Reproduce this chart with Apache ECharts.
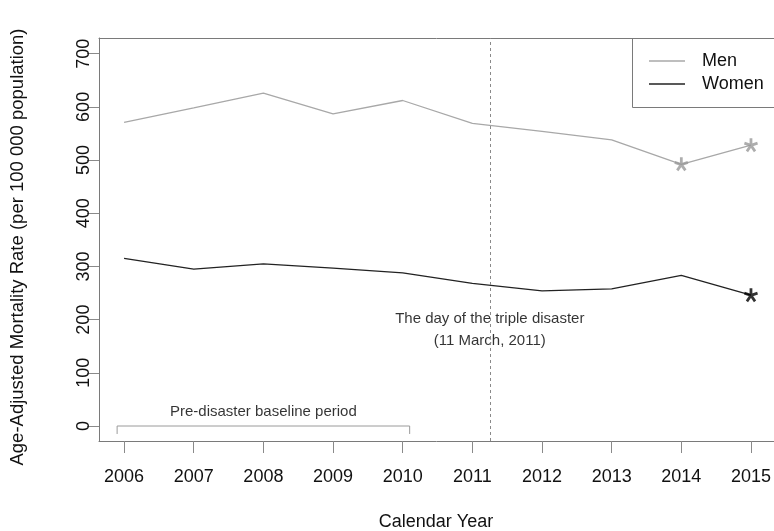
<!DOCTYPE html>
<html>
<head>
<meta charset="utf-8">
<script src="https://cdn.jsdelivr.net/npm/echarts@6/dist/echarts.min.js"></script>
<style>
  html, body { margin: 0; padding: 0; background: #fff; }
  #chart { width: 774px; height: 531px; }
</style>
</head>
<body>
<div id="chart"></div>
<script>
// Age-adjusted mortality rates, 2006-2015
const years = [2006, 2007, 2008, 2009, 2010, 2011, 2012, 2013, 2014, 2015];
const menRates = [571, 598, 626, 587, 612, 569, 554, 538, 492, 528];
const womenRates = [315, 295, 305, 297, 288, 268, 254, 258, 283, 246];

// years flagged with an asterisk (significant difference from baseline)
const menFlagged = [2014, 2015];
const womenFlagged = [2015];

const yTicks = [0, 100, 200, 300, 400, 500, 600, 700];

// marker for the disaster of 11 March 2011 (placed a quarter into 2011)
const disasterDate = 2011.25;
// pre-disaster baseline bracket
const baselineStart = 2005.9;
const baselineEnd = 2010.1;

const FONT = '"Liberation Sans", Arial, Helvetica, sans-serif';
const MEN_COLOR = '#a8a8a8';
const WOMEN_COLOR = '#222222';
const FRAME = '#7a7a7a';

// five-armed asterisk outline, used as a marker symbol
function asteriskPath() {
  const t = 0.2;
  let d = '';
  for (let k = 0; k < 5; k++) {
    const a = -Math.PI / 2 + k * 2 * Math.PI / 5;
    const dx = Math.cos(a), dy = Math.sin(a);
    const nx = -dy * t, ny = dx * t;
    const pts = [
      [nx, ny], [nx + dx, ny + dy], [-nx + dx, -ny + dy], [-nx, -ny]
    ];
    d += 'M' + pts.map(p => p[0].toFixed(3) + ',' + p[1].toFixed(3)).join('L') + 'Z';
  }
  return 'path://' + d;
}
const STAR = asteriskPath();

function flaggedPoints(rates, flagged) {
  return flagged.map(y => [y, rates[years.indexOf(y)]]);
}

const chart = echarts.init(document.getElementById('chart'), null, { renderer: 'canvas' });

const X_MIN = 2005.64, X_MAX = 2015.33;

const option = {
  animation: false,
  backgroundColor: '#ffffff',
  textStyle: { fontFamily: FONT },
  grid: { left: 99, top: 38, right: 0, bottom: 90, show: false },
  xAxis: [
    {
      type: 'value', position: 'bottom',
      min: X_MIN, max: X_MAX,
      axisLine: { show: true, onZero: false, lineStyle: { color: FRAME, width: 1 } },
      splitLine: { show: false },
      axisTick: { show: true, customValues: years, length: 12, lineStyle: { color: '#8a8a8a', width: 1 } },
      axisLabel: { customValues: years, margin: 27, fontSize: 18, color: '#111', fontFamily: FONT,
        formatter: v => String(Math.round(v)) }
    },
    {
      // top edge of the plot frame
      type: 'value', position: 'top',
      min: X_MIN, max: X_MAX,
      axisLine: { show: true, onZero: false, lineStyle: { color: FRAME, width: 1 } },
      axisTick: { show: false }, axisLabel: { show: false }, splitLine: { show: false }
    }
  ],
  yAxis: {
    type: 'value',
    min: -28.2,
    max: 729.5,
    axisLine: { show: true, onZero: false, lineStyle: { color: FRAME, width: 1 } },
    splitLine: { show: false },
    axisTick: { show: true, customValues: yTicks, length: 12, lineStyle: { color: '#8a8a8a', width: 1 } },
    axisLabel: { customValues: yTicks, rotate: 90, margin: 6, fontSize: 18, color: '#111', fontFamily: FONT }
  },
  legend: {
    orient: 'vertical',
    left: 632, top: 38,
    data: [
      { name: 'Men', icon: 'rect', itemStyle: { color: MEN_COLOR } },
      { name: 'Women', icon: 'rect', itemStyle: { color: WOMEN_COLOR } }
    ],
    itemWidth: 36, itemHeight: 1.3, itemGap: 5,
    padding: [14, 10, 14, 17],
    borderWidth: 0,
    textStyle: { fontSize: 18, color: '#111', fontFamily: FONT, padding: [0, 0, 0, 12] }
  },
  graphic: [
    // legend frame, running past the right edge like the plot frame
    { type: 'rect', shape: { x: 632.5, y: 38.5, width: 200, height: 69 },
      style: { fill: 'none', stroke: FRAME, lineWidth: 1 }, z: 10 },
    { type: 'text', style: { text: 'Calendar Year', x: 436, y: 522, textAlign: 'center', textVerticalAlign: 'middle', font: '18px ' + FONT, fill: '#111' } },
    { type: 'text', x: 18, y: 247, rotation: Math.PI / 2,
      style: { text: 'Age-Adjusted Mortality Rate (per 100 000 population)', x: 0, y: 0, textAlign: 'center', textVerticalAlign: 'middle', font: '18.5px ' + FONT, fill: '#111' } }
  ],
  series: [
    {
      name: 'Men', type: 'line', symbol: 'none',
      data: years.map((y, i) => [y, menRates[i]]),
      lineStyle: { color: MEN_COLOR, width: 1.3 },
      itemStyle: { color: MEN_COLOR },
      z: 3
    },
    {
      name: 'Women', type: 'line', symbol: 'none',
      data: years.map((y, i) => [y, womenRates[i]]),
      lineStyle: { color: WOMEN_COLOR, width: 1.3 },
      itemStyle: { color: WOMEN_COLOR },
      z: 3
    },
    {
      name: 'Men flagged', type: 'scatter', symbol: STAR, symbolSize: [14, 14],
      data: flaggedPoints(menRates, menFlagged),
      itemStyle: { color: '#999999' }, z: 4, silent: true
    },
    {
      name: 'Women flagged', type: 'scatter', symbol: STAR, symbolSize: [14, 14],
      data: flaggedPoints(womenRates, womenFlagged),
      itemStyle: { color: '#000000' }, z: 4, silent: true
    },
    {
      // baseline bracket
      name: 'baseline', type: 'line', symbol: 'none', silent: true,
      data: [[baselineStart, -15], [baselineStart, 0], [baselineEnd, 0], [baselineEnd, -15]],
      lineStyle: { color: '#9a9a9a', width: 1 },
      z: 2
    },
    {
      // annotation labels and the disaster-date marker
      name: 'notes', type: 'scatter', symbolSize: 0, silent: true,
      data: [
        { value: [disasterDate, 181], label: { formatter: 'The day of the triple disaster\n(11 March, 2011)' } },
        { value: [(baselineStart + baselineEnd) / 2, 27], label: { formatter: 'Pre-disaster baseline period' } }
      ],
      label: { show: true, position: 'inside', fontSize: 15, lineHeight: 22, color: '#000', fontFamily: FONT, align: 'center' },
      markLine: {
        silent: true, symbol: 'none',
        label: { show: false },
        lineStyle: { color: '#8a8a8a', type: [3, 3], width: 1 },
        data: [{ xAxis: disasterDate }]
      },
      z: 2
    }
  ]
};

chart.setOption(option);
</script>
</body>
</html>
